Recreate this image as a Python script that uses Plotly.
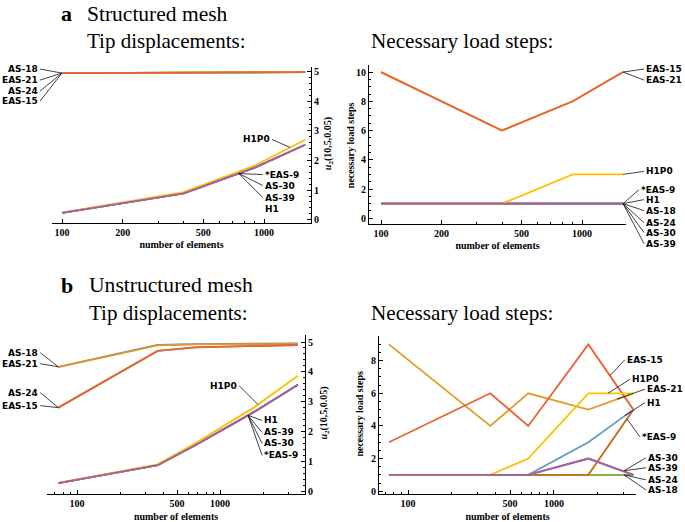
import math
import plotly.graph_objects as go

# ---------------- data ----------------
series_names = ["AS-18", "EAS-21", "AS-24", "EAS-15", "AS-30", "*EAS-9", "H1", "H1P0", "AS-39"]
series_colors = ["#5E81B5", "#E19C24", "#8FB032", "#EB6235", "#8778B3", "#C56E1A", "#5D9EC7", "#FFBF00", "#A5609D"]

# structured mesh: number of elements
x_struct = [100, 400, 900, 1600]
# unstructured mesh: number of elements
x_unstruct = [74, 366, 666, 1720, 3500]

# (a) structured, tip displacement u2(10,5,0.05)
a_tip = {
    "AS-18":  [4.95, 4.97, 4.98, 4.98],
    "EAS-21": [4.95, 4.97, 4.98, 4.98],
    "AS-24":  [4.95, 4.97, 4.98, 4.98],
    "EAS-15": [4.95, 4.97, 4.98, 4.98],
    "AS-30":  [0.23, 0.89, 1.76, 2.53],
    "*EAS-9": [0.23, 0.89, 1.76, 2.53],
    "H1":     [0.23, 0.89, 1.76, 2.53],
    "H1P0":   [0.24, 0.93, 1.83, 2.70],
    "AS-39":  [0.23, 0.89, 1.76, 2.53],
}
# (a) structured, necessary load steps
a_steps = {
    "AS-18":  [1, 1, 1, 1],
    "EAS-21": [10, 6, 8, 10],
    "AS-24":  [1, 1, 1, 1],
    "EAS-15": [10, 6, 8, 10],
    "AS-30":  [1, 1, 1, 1],
    "*EAS-9": [1, 1, 1, 1],
    "H1":     [1, 1, 1, 1],
    "H1P0":   [1, 1, 3, 3],
    "AS-39":  [1, 1, 1, 1],
}
# (b) unstructured, tip displacement
b_tip = {
    "AS-18":  [4.17, 4.90, 4.93, 4.94, 4.95],
    "EAS-21": [4.16, 4.89, 4.92, 4.93, 4.94],
    "AS-24":  [2.80, 4.70, 4.82, 4.87, 4.90],
    "EAS-15": [2.80, 4.70, 4.82, 4.87, 4.90],
    "AS-30":  [0.27, 0.87, 1.53, 2.65, 3.57],
    "*EAS-9": [0.27, 0.87, 1.53, 2.65, 3.57],
    "H1":     [0.27, 0.87, 1.53, 2.65, 3.57],
    "H1P0":   [0.28, 0.90, 1.60, 2.80, 3.87],
    "AS-39":  [0.27, 0.87, 1.53, 2.65, 3.57],
}
# (b) unstructured, necessary load steps
b_steps = {
    "AS-18":  [1, 1, 1, 1, 1],
    "EAS-21": [9, 4, 6, 5, 6],
    "AS-24":  [1, 1, 1, 1, 1],
    "EAS-15": [3, 6, 4, 9, 5],
    "AS-30":  [1, 1, 1, 2, 1],
    "*EAS-9": [1, 1, 1, 1, 5],
    "H1":     [1, 1, 1, 3, 5],
    "H1P0":   [1, 1, 2, 6, 6],
    "AS-39":  [1, 1, 1, 2, 1],
}

W, H = 685, 522

def PX(p):
    return p / W

def PY(p):
    return 1 - p / H

fig = go.Figure()

panels = [
    ("x", "y", x_struct, a_tip),
    ("x2", "y2", x_struct, a_steps),
    ("x3", "y3", x_unstruct, b_tip),
    ("x4", "y4", x_unstruct, b_steps),
]
for xa, ya, xs, data in panels:
    for name, col in zip(series_names, series_colors):
        fig.add_trace(go.Scatter(x=xs, y=data[name], mode="lines", name=name,
                                 line=dict(color=col, width=1.8),
                                 xaxis=xa, yaxis=ya, showlegend=False, hoverinfo="skip"))

tickfont = dict(family="Liberation Serif", size=10, color="black", weight="bold")
titlefont = dict(family="Liberation Serif", size=10, color="black", weight="bold")

def xdom(a, b):
    return [PX(a), PX(b)]

def ydom(bottom, top):
    return [PY(bottom), PY(top)]

common_x = dict(type="log", showline=True, linecolor="black", linewidth=1, showgrid=False,
                zeroline=False, ticks="inside", ticklen=4, tickcolor="black", tickfont=tickfont,
                title=dict(text="number of elements", font=titlefont, standoff=4))
common_y = dict(showline=True, linecolor="black", linewidth=1, showgrid=False, zeroline=False,
                ticks="inside", ticklen=4, tickcolor="black", tickfont=tickfont)

minor_a = [300, 400, 600, 700, 800, 900]
minor_b = [70, 80, 90, 200, 300, 400, 600, 700, 800, 900, 2000, 3000]

fig.update_layout(
    width=W, height=H, margin=dict(l=0, r=0, t=0, b=0),
    paper_bgcolor="white", plot_bgcolor="white", showlegend=False,
    xaxis=dict(common_x, domain=xdom(52, 311), range=[1.9505, 3.2327], anchor="y",
               tickvals=[100, 200, 500, 1000], ticktext=["100", "200", "500", "1000"],
               minor=dict(tickvals=minor_a, ticklen=2, ticks="inside", tickcolor="black")),
    yaxis=dict(common_y, domain=ydom(224, 67), range=[-0.1, 5.168], anchor="x", side="right",
               tickvals=[0, 1, 2, 3, 4, 5],
               minor=dict(dtick=0.2, ticklen=2, ticks="inside", tickcolor="black")),
    xaxis2=dict(common_x, domain=xdom(369, 626), range=[1.9403, 3.2189], anchor="y2",
                tickvals=[100, 200, 500, 1000], ticktext=["100", "200", "500", "1000"],
                minor=dict(tickvals=minor_a, ticklen=2, ticks="inside", tickcolor="black")),
    yaxis2=dict(common_y, domain=ydom(225, 65), range=[-0.374, 10.51], anchor="x2",
                tickvals=[0, 2, 4, 6, 8, 10],
                minor=dict(dtick=0.5, ticklen=2, ticks="inside", tickcolor="black")),
    xaxis3=dict(common_x, domain=xdom(47, 305), range=[1.790, 3.594], anchor="y3",
                tickvals=[100, 500, 1000], ticktext=["100", "500", "1000"],
                minor=dict(tickvals=minor_b, ticklen=2, ticks="inside", tickcolor="black")),
    yaxis3=dict(common_y, domain=ydom(497, 337), range=[-0.1, 5.233], anchor="x3", side="right",
                tickvals=[0, 1, 2, 3, 4, 5],
                minor=dict(dtick=0.2, ticklen=2, ticks="inside", tickcolor="black")),
    xaxis4=dict(common_x, domain=xdom(379, 636), range=[1.801, 3.562], anchor="y4",
                tickvals=[100, 500, 1000], ticktext=["100", "500", "1000"],
                minor=dict(tickvals=minor_b, ticklen=2, ticks="inside", tickcolor="black")),
    yaxis4=dict(common_y, domain=ydom(497, 338), range=[-0.183, 9.51], anchor="x4",
                tickvals=[0, 2, 4, 6, 8],
                minor=dict(dtick=0.5, ticklen=2, ticks="inside", tickcolor="black")),
)

# ---------------- headings and y-axis titles ----------------
serif = "Liberation Serif"
def heading(text, xpx, ypx, size, bold=False):
    fig.add_annotation(text=("<b>%s</b>" % text) if bold else text, x=PX(xpx), y=PY(ypx),
                       xref="paper", yref="paper", xanchor="left", yanchor="middle",
                       showarrow=False, font=dict(family=serif, size=size, color="black"))

heading("a", 59, 14, 22, bold=True)
heading("Structured mesh", 85, 14, 21.5)
heading("Tip displacements:", 85, 41, 21.0)
heading("Necessary load steps:", 369, 41, 21.2)
heading("b", 59, 287, 22, bold=True)
heading("Unstructured mesh", 87, 287, 21.6)
heading("Tip displacements:", 87, 315, 21.0)
heading("Necessary load steps:", 369, 315, 21.2)

def ytitle(text, xpx, ypx):
    fig.add_annotation(text=text, x=PX(xpx), y=PY(ypx), xref="paper", yref="paper",
                       xanchor="center", yanchor="middle", textangle=-90, showarrow=False,
                       font=titlefont)

ytitle("<i>u</i><sub>2</sub>(10,5,0.05)", 328, 145)
ytitle("necessary load steps", 350, 146)
ytitle("<i>u</i><sub>2</sub>(10,5,0.05)", 325, 416)
ytitle("necessary load steps", 360, 416)

# ---------------- callout labels ----------------
lab_font = dict(family="DejaVu Sans", size=9, color="black", weight="bold")

def callout(xa, ya, xv, yv, text, ax, ay, side):
    ax = ax - 3 if side == "left" else ax + 2
    fig.add_annotation(x=math.log10(xv), y=yv, xref=xa, yref=ya, text=text,
                       showarrow=True, arrowhead=0, arrowwidth=0.8, arrowcolor="#111",
                       ax=ax, ay=ay, xanchor=side, yanchor="middle", font=lab_font,
                       borderpad=1, standoff=0)

# panel a, tip
for t, ay in [("AS-18", -4), ("EAS-21", 7), ("AS-24", 18), ("EAS-15", 28)]:
    callout("x", "y", 100, 4.95, t, -24, ay, "right")
callout("x", "y", 1346, 2.44, "H1P0", -20, -8, "right")
for t, ay in [("*EAS-9", 1), ("AS-30", 12), ("AS-39", 24), ("H1", 35)]:
    callout("x", "y", 750, 1.56, t, 27, ay, "left")

# panel a, steps
callout("x2", "y2", 1600, 10, "EAS-15", 24, -3, "left")
callout("x2", "y2", 1600, 10, "EAS-21", 24, 8, "left")
callout("x2", "y2", 1600, 3, "H1P0", 24, -3, "left")
for t, ay, ax in [("*EAS-9", -14, 19), ("H1", -4, 24), ("AS-18", 7, 24), ("AS-24", 19, 24),
                  ("AS-30", 29, 24), ("AS-39", 40, 24)]:
    callout("x2", "y2", 1600, 1, t, ax, ay, "left")

# panel b, tip
callout("x3", "y3", 74, 4.17, "AS-18", -20, -14, "right")
callout("x3", "y3", 74, 4.17, "EAS-21", -20, -3, "right")
callout("x3", "y3", 74, 2.8, "AS-24", -20, -15, "right")
callout("x3", "y3", 74, 2.8, "EAS-15", -20, -2, "right")
callout("x3", "y3", 1845, 2.9, "H1P0", -21, -19, "right")
for t, ay in [("H1", 5), ("AS-39", 17), ("AS-30", 28), ("*EAS-9", 40)]:
    callout("x3", "y3", 1570, 2.54, t, 17, ay, "left")

# panel b, steps
callout("x4", "y4", 2419, 7.08, "EAS-15", 18, -16, "left")
callout("x4", "y4", 2344, 6, "H1P0", 25, -14, "left")
callout("x4", "y4", 2701, 5.64, "EAS-21", 31, -10, "left")
callout("x4", "y4", 3064, 4.63, "H1", 23, -13, "left")
callout("x4", "y4", 3162, 4.43, "*EAS-9", 16, 18, "left")
callout("x4", "y4", 3017, 1.25, "AS-30", 25, -13, "left")
callout("x4", "y4", 3017, 1.25, "AS-39", 25, -3, "left")
callout("x4", "y4", 3017, 1, "AS-24", 25, 5, "left")
callout("x4", "y4", 3017, 1, "AS-18", 25, 15, "left")

# remove the default page margin so the 685x522 figure fills the window exactly
fig.write_html("out.html", config={"displayModeBar": False, "staticPlot": True},
               post_script="document.body.style.margin='0';")
